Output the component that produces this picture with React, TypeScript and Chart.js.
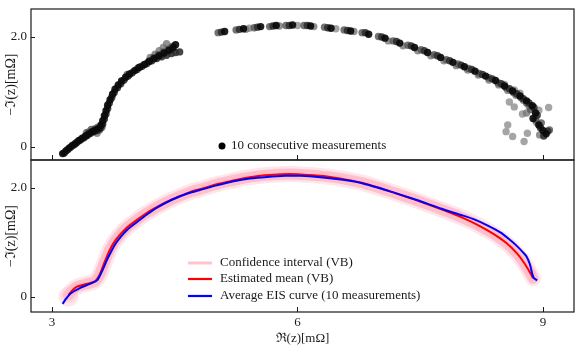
import React, { useEffect, useRef } from 'react';
import { Chart, registerables } from 'chart.js';

Chart.register(...registerables);

// ---------- axes ----------
const X_RANGE = [2.743, 9.38];
const X_TICKS = [3, 6, 9];
const Y_TICKS = [0, 2];
const TOP_Y_RANGE = [-0.236, 2.51];
const BOT_Y_RANGE = [-0.28, 2.51];
const X_TITLE = 'ℜ(z)[mΩ]';
const Y_TITLE = '−ℑ(z)[mΩ]';

// ---------- top panel: 10 consecutive measurements (grouped by shade) ----------
const SCATTER_LABEL = '10 consecutive measurements';
const SHADES = [
  'rgba(10,10,10,0.92)',
  'rgba(45,45,45,0.88)',
  'rgba(85,85,85,0.82)',
  'rgba(115,115,115,0.78)',
  'rgba(145,145,145,0.82)',
];

const MEAS_1: number[][] = [
  [3.13, -0.12], [3.17, -0.07], [3.21, -0.02], [3.25, 0.03], [3.29, 0.07], [3.33, 0.12], [3.37, 0.16],
  [3.41, 0.2], [3.45, 0.24], [3.49, 0.28], [3.53, 0.31], [3.57, 0.34], [3.6, 0.4], [3.62, 0.48],
  [3.64, 0.57], [3.66, 0.66], [3.68, 0.76], [3.71, 0.86], [3.74, 0.96], [3.77, 1.05], [3.81, 1.13],
  [3.85, 1.2], [3.9, 1.27], [3.95, 1.33], [4.01, 1.39], [4.07, 1.45], [4.13, 1.5], [4.19, 1.56],
  [4.25, 1.61], [4.31, 1.66], [4.37, 1.71], [4.43, 1.76], [4.48, 1.81], [4.51, 1.86],
  [5.11, 2.1], [5.34, 2.15], [5.55, 2.19], [5.74, 2.21], [5.94, 2.22], [6.16, 2.2], [6.41, 2.16],
  [6.65, 2.11], [6.87, 2.05], [7.07, 1.98], [7.25, 1.89], [7.43, 1.81], [7.59, 1.72], [7.75, 1.63],
  [7.9, 1.54], [8.04, 1.46], [8.17, 1.38], [8.3, 1.29], [8.42, 1.21], [8.53, 1.11], [8.63, 1.02],
  [8.72, 0.93], [8.8, 0.84], [8.87, 0.75], [8.91, 0.62], [8.88, 0.52], [8.95, 0.4], [9.0, 0.3],
  [9.04, 0.24],
];
const MEAS_2: number[][] = [
  [3.15, -0.11], [3.19, -0.05], [3.23, 0.0], [3.27, 0.04], [3.31, 0.09], [3.35, 0.13], [3.39, 0.17],
  [3.43, 0.21], [3.47, 0.25], [3.51, 0.28], [3.55, 0.3], [3.59, 0.34], [3.62, 0.42], [3.64, 0.51],
  [3.66, 0.6], [3.68, 0.7], [3.7, 0.8], [3.73, 0.9], [3.76, 0.99], [3.8, 1.08], [3.84, 1.15],
  [3.88, 1.22], [3.93, 1.29], [3.98, 1.35], [4.04, 1.41], [4.1, 1.47], [4.16, 1.52], [4.22, 1.57],
  [4.28, 1.61], [4.34, 1.64], [4.4, 1.67], [4.46, 1.7], [4.51, 1.72], [4.56, 1.73],
  [5.07, 2.09], [5.29, 2.14], [5.51, 2.18], [5.7, 2.2], [5.9, 2.21], [6.12, 2.21], [6.37, 2.17],
  [6.61, 2.12], [6.83, 2.08], [7.03, 2.0], [7.21, 1.92], [7.39, 1.84], [7.55, 1.75], [7.71, 1.66],
  [7.86, 1.57], [8.0, 1.49], [8.13, 1.41], [8.26, 1.32], [8.38, 1.24], [8.49, 1.15], [8.59, 1.06],
  [8.68, 0.97], [8.76, 0.88], [8.83, 0.8], [8.89, 0.72], [8.93, 0.58], [8.97, 0.35], [9.06, 0.29],
  [9.01, 0.2],
];
const MEAS_3: number[][] = [
  [3.44, 0.27], [3.48, 0.32], [3.52, 0.33], [3.56, 0.36], [3.58, 0.31], [3.61, 0.36],
  [3.92, 1.32], [4.05, 1.44], [4.18, 1.55], [4.24, 1.63], [4.3, 1.68], [4.36, 1.73], [4.42, 1.78],
  [4.47, 1.83],
  [5.03, 2.08], [5.25, 2.13], [5.47, 2.17], [5.66, 2.19], [5.86, 2.21], [6.08, 2.21], [6.33, 2.18],
  [6.57, 2.13], [6.79, 2.08], [6.99, 2.01], [7.17, 1.93], [7.35, 1.85], [7.51, 1.77], [7.67, 1.68],
  [7.82, 1.59], [7.96, 1.51], [8.09, 1.43], [8.22, 1.34], [8.34, 1.26], [8.45, 1.17], [8.55, 1.08],
  [8.64, 0.99], [8.73, 0.9], [8.8, 0.8], [8.85, 0.68], [8.91, 0.5], [9.08, 0.31], [8.98, 0.44],
];
const MEAS_4: number[][] = [
  [3.42, 0.26], [3.55, 0.25],
  [4.2, 1.63], [4.26, 1.69], [4.31, 1.75], [4.36, 1.81], [4.4, 1.88],
  [5.37, 2.14], [5.78, 2.2], [6.2, 2.19], [6.69, 2.1], [7.11, 1.93], [7.29, 1.84], [7.47, 1.75],
  [7.63, 1.66], [7.79, 1.57], [7.94, 1.48], [8.08, 1.4], [8.21, 1.31], [8.34, 1.22], [8.46, 1.13],
  [8.57, 1.03], [8.67, 0.94], [8.76, 0.85], [8.83, 0.74], [8.8, 0.62], [8.92, 0.45], [8.96, 0.22],
];
const MEAS_5: number[][] = [
  [5.41, 2.16], [6.0, 2.21], [6.47, 2.15], [8.53, 1.14], [8.65, 1.04], [8.72, 0.98], [8.59, 0.82],
  [8.65, 0.73], [8.57, 0.4], [8.55, 0.28], [8.63, 0.19], [8.77, 0.1], [8.81, 0.25], [9.07, 0.72],
  [8.95, 0.67], [8.75, 0.6],
];
const MEASUREMENTS = [MEAS_1, MEAS_2, MEAS_3, MEAS_4, MEAS_5];

// ---------- bottom panel ----------
const CI_LABEL = 'Confidence interval (VB)';
const MEAN_LABEL = 'Estimated mean (VB)';
const AVG_LABEL = 'Average EIS curve (10 measurements)';

const MEAN_VB: number[][] = [
  [3.2, 0.03], [3.25, 0.12], [3.3, 0.18], [3.38, 0.22], [3.46, 0.25], [3.53, 0.29], [3.58, 0.4],
  [3.62, 0.55], [3.66, 0.7], [3.7, 0.84], [3.75, 0.98], [3.82, 1.12], [3.9, 1.25], [4.0, 1.37],
  [4.12, 1.5], [4.25, 1.62], [4.4, 1.74], [4.55, 1.84], [4.7, 1.93], [4.85, 1.99], [5.0, 2.06],
  [5.2, 2.13], [5.4, 2.19], [5.6, 2.23], [5.8, 2.25], [6.0, 2.25], [6.2, 2.23], [6.4, 2.2],
  [6.6, 2.15], [6.8, 2.09], [7.0, 2.0], [7.2, 1.9], [7.4, 1.8], [7.6, 1.69], [7.8, 1.58],
  [8.0, 1.46], [8.2, 1.32], [8.4, 1.15], [8.55, 0.99], [8.68, 0.8], [8.78, 0.6], [8.84, 0.45],
  [8.88, 0.34],
];
const CI_START: number[][] = [[3.2, 0.0]];
const AVG_EIS: number[][] = [
  [3.13, -0.13], [3.17, -0.04], [3.22, 0.05], [3.28, 0.11], [3.34, 0.16], [3.42, 0.21], [3.5, 0.26],
  [3.55, 0.3], [3.59, 0.4], [3.63, 0.53], [3.67, 0.67], [3.72, 0.82], [3.77, 0.96], [3.84, 1.1],
  [3.92, 1.23], [4.02, 1.35], [4.16, 1.51], [4.3, 1.65], [4.48, 1.79], [4.65, 1.89], [4.81, 1.96],
  [5.0, 2.04], [5.22, 2.12], [5.42, 2.17], [5.63, 2.2], [5.85, 2.22], [6.04, 2.22], [6.25, 2.2],
  [6.53, 2.15], [6.8, 2.08], [7.14, 1.93], [7.45, 1.78], [7.75, 1.62], [8.0, 1.5], [8.16, 1.42],
  [8.32, 1.31], [8.48, 1.18], [8.6, 1.04], [8.69, 0.92], [8.76, 0.81], [8.8, 0.74], [8.84, 0.6],
  [8.87, 0.42], [8.89, 0.34], [8.93, 0.3],
];

const FONT_FAMILY = "'Liberation Serif', 'Times New Roman', serif";
const INK = '#1a1a1a';
const PINK = 'rgba(255, 186, 198, 0.85)';
const PINK_SOFT = 'rgba(255, 200, 210, 0.45)';

const toXY = (arr: number[][]) => arr.map(([x, y]) => ({ x, y }));

function frameAndLegend(drawLegend: (ctx: CanvasRenderingContext2D) => void) {
  return {
    id: 'frameAndLegend',
    afterDraw(chart: any) {
      const { ctx, chartArea: a, scales } = chart;
      ctx.save();
      ctx.strokeStyle = INK;
      ctx.lineWidth = 1.2;
      ctx.strokeRect(a.left, a.top, a.right - a.left, a.bottom - a.top);
      ctx.lineWidth = 1;
      ctx.beginPath();
      for (const v of X_TICKS) {
        const px = Math.round(scales.x.getPixelForValue(v)) + 0.5;
        ctx.moveTo(px, a.bottom);
        ctx.lineTo(px, a.bottom - 5);
      }
      for (const v of Y_TICKS) {
        const py = Math.round(scales.y.getPixelForValue(v)) + 0.5;
        ctx.moveTo(a.left, py);
        ctx.lineTo(a.left + 4, py);
      }
      ctx.stroke();
      drawLegend(ctx);
      ctx.restore();
    },
  };
}

function yScale(range: number[]) {
  return {
    type: 'linear' as const,
    min: range[0],
    max: range[1],
    afterBuildTicks: (s: any) => {
      s.ticks = Y_TICKS.map((value) => ({ value }));
    },
    afterFit: (s: any) => {
      s.width = 31;
      s.paddingTop = 0;
      s.paddingBottom = 0;
    },
    grid: { display: false, drawTicks: false },
    border: { display: false },
    ticks: {
      padding: 4,
      color: INK,
      font: { family: FONT_FAMILY, size: 13 },
      callback: (v: any) => (Number(v) === 0 ? '0' : Number(v).toFixed(1)),
    },
    title: {
      display: true,
      text: Y_TITLE,
      color: INK,
      padding: { top: 3, bottom: 0 },
      font: { family: FONT_FAMILY, size: 14 },
    },
  };
}

export default function App() {
  const topRef = useRef<HTMLCanvasElement>(null);
  const botRef = useRef<HTMLCanvasElement>(null);

  useEffect(() => {
    document.body.style.margin = '0';
    const topChart = new Chart(topRef.current!, {
      type: 'scatter',
      data: {
        datasets: MEASUREMENTS.map((m, i) => ({
          label: `group ${i + 1}`,
          data: toXY(m),
          backgroundColor: SHADES[i],
          borderWidth: 0,
          pointRadius: 3.7,
          order: i,
        })),
      },
      options: {
        responsive: false,
        animation: false,
        layout: { padding: { top: 9, right: 10, bottom: 5, left: 0 } },
        plugins: { legend: { display: false }, tooltip: { enabled: false } },
        scales: {
          x: { type: 'linear', min: X_RANGE[0], max: X_RANGE[1], display: false },
          y: yScale(TOP_Y_RANGE) as any,
        },
      },
      plugins: [
        frameAndLegend((ctx) => {
          ctx.fillStyle = '#000';
          ctx.beginPath();
          ctx.arc(222, 146, 3.5, 0, Math.PI * 2);
          ctx.fill();
          ctx.font = `13px ${FONT_FAMILY}`;
          ctx.textBaseline = 'middle';
          ctx.fillStyle = INK;
          ctx.fillText(SCATTER_LABEL, 231, 146);
        }),
      ],
    });

    const botChart = new Chart(botRef.current!, {
      type: 'line',
      data: {
        datasets: [
          {
            label: AVG_LABEL,
            data: toXY(AVG_EIS),
            borderColor: '#0000ff',
            borderWidth: 2,
            pointRadius: 0,
            tension: 0.2,
            order: 0,
          },
          {
            label: MEAN_LABEL,
            data: toXY(MEAN_VB),
            borderColor: '#ff0000',
            borderWidth: 2,
            pointRadius: 0,
            tension: 0.2,
            order: 1,
          },
          {
            label: CI_LABEL,
            data: toXY(MEAN_VB),
            borderColor: PINK,
            borderWidth: 11,
            borderCapStyle: 'round',
            borderJoinStyle: 'round',
            pointRadius: 0,
            tension: 0.2,
            order: 2,
          },
          {
            label: CI_LABEL + ' outer',
            data: toXY(MEAN_VB),
            borderColor: PINK_SOFT,
            borderWidth: 16,
            borderCapStyle: 'round',
            borderJoinStyle: 'round',
            pointRadius: 0,
            tension: 0.2,
            order: 3,
          },
          {
            label: CI_LABEL + ' start',
            data: toXY(CI_START),
            showLine: false,
            pointRadius: 10,
            pointBackgroundColor: PINK_SOFT,
            pointBorderWidth: 0,
            order: 4,
          },
        ] as any,
      },
      options: {
        responsive: false,
        animation: false,
        layout: { padding: { top: 10, right: 10, bottom: 0, left: 0 } },
        plugins: { legend: { display: false }, tooltip: { enabled: false } },
        scales: {
          x: {
            type: 'linear',
            min: X_RANGE[0],
            max: X_RANGE[1],
            afterBuildTicks: (s: any) => {
              s.ticks = X_TICKS.map((value) => ({ value }));
            },
            afterFit: (s: any) => {
              s.height = 42;
              s.paddingLeft = 0;
              s.paddingRight = 0;
            },
            grid: { display: false, drawTicks: false },
            border: { display: false },
            ticks: {
              padding: 3,
              color: INK,
              maxRotation: 0,
              font: { family: FONT_FAMILY, size: 13 },
              callback: (v: any) => String(v),
            },
            title: {
              display: true,
              text: X_TITLE,
              color: INK,
              padding: { top: 0, bottom: 8 },
              font: { family: FONT_FAMILY, size: 13 },
            },
          },
          y: yScale(BOT_Y_RANGE) as any,
        },
      },
      plugins: [
        frameAndLegend((ctx) => {
          const rows: [string, string, number][] = [
            [CI_LABEL, PINK, 113],
            [MEAN_LABEL, '#ff0000', 129],
            [AVG_LABEL, '#0000ff', 146],
          ];
          ctx.font = `13px ${FONT_FAMILY}`;
          ctx.textBaseline = 'middle';
          for (const [label, color, y] of rows) {
            ctx.strokeStyle = color;
            ctx.lineWidth = label === CI_LABEL ? 3 : 2.2;
            ctx.beginPath();
            ctx.moveTo(188, y);
            ctx.lineTo(212, y);
            ctx.stroke();
            ctx.fillStyle = INK;
            ctx.fillText(label, 220, y);
          }
        }),
      ],
    });

    return () => {
      topChart.destroy();
      botChart.destroy();
    };
  }, []);

  return (
    <div style={{ position: 'absolute', left: 0, top: 0, width: 584, height: 354, background: '#fff' }}>
      <canvas ref={topRef} width={584} height={165} style={{ position: 'absolute', left: 0, top: 0 }} />
      <canvas ref={botRef} width={584} height={204} style={{ position: 'absolute', left: 0, top: 150 }} />
    </div>
  );
}
